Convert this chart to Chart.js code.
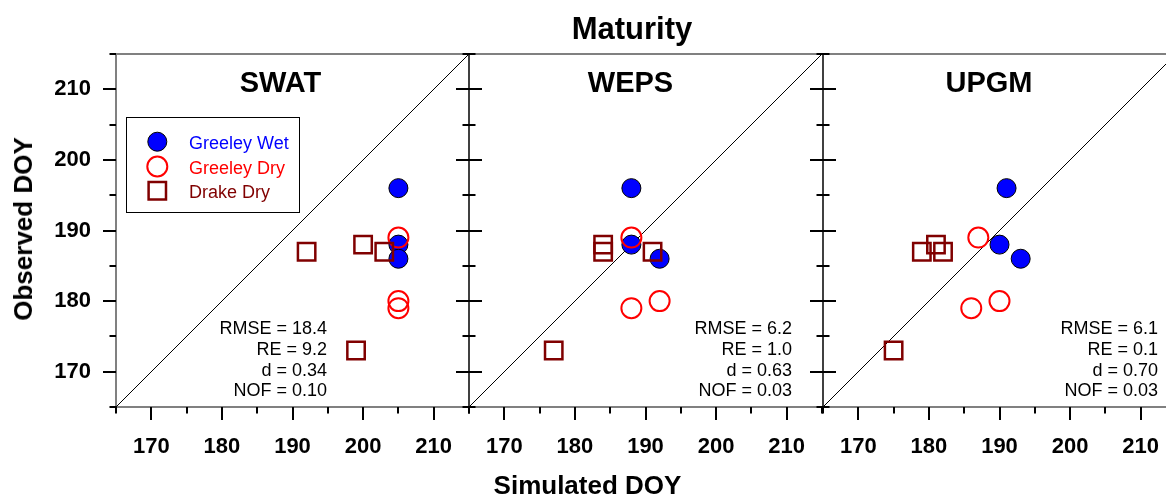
<!DOCTYPE html>
<html>
<head>
<meta charset="utf-8">
<script src="https://cdn.jsdelivr.net/npm/chart.js@4/dist/chart.umd.min.js"></script>
<style>
  html, body { margin: 0; padding: 0; background: #fff; }
  #wrap { position: relative; width: 1166px; height: 495px; overflow: hidden; background: #fff; }
  canvas { position: absolute; top: 0; }
  .t { position: absolute; font-family: 'Liberation Sans', Arial, sans-serif; font-weight: bold; color: #000; line-height: 1; white-space: nowrap; }
</style>
</head>
<body>
<div id="wrap">
  <canvas id="c0" width="484" height="495" style="left:0px"></canvas>
  <canvas id="c1" width="484" height="495" style="left:353px"></canvas>
  <canvas id="c2" width="484" height="495" style="left:707px"></canvas>
  <div class="t" id="mainTitle" style="left:432px; width:400px; text-align:center; top:12.8px; font-size:31px;">Maturity</div>
  <div class="t" id="xTitle" style="left:387.5px; width:400px; text-align:center; top:471.6px; font-size:26px;">Simulated DOY</div>
  <div class="t" id="yTitle" style="left:22.5px; top:229px; font-size:26px; transform: translate(-50%,-50%) rotate(-90deg);">Observed DOY</div>
</div>
<script>
// ---------------- data ----------------
const models = ['SWAT', 'WEPS', 'UPGM'];
const seriesNames = ['Greeley Wet', 'Greeley Dry', 'Drake Dry'];

// observed DOY (same for every model)
const observedGreeleyWet = [196, 188, 186];
const observedGreeleyDry = [189, 180, 179];
const observedDrakeDry   = [188, 187, 187, 173];

// simulated DOY per model
const swatGreeleyWet = [205, 205, 205];
const swatGreeleyDry = [205, 205, 205];
const swatDrakeDry   = [200, 192, 203, 199];

const wepsGreeleyWet = [188, 188, 192];
const wepsGreeleyDry = [188, 192, 188];
const wepsDrakeDry   = [184, 184, 191, 177];

const upgmGreeleyWet = [191, 190, 193];
const upgmGreeleyDry = [187, 190, 186];
const upgmDrakeDry   = [181, 179, 182, 175];

const swatStats = ['RMSE = 18.4', 'RE = 9.2', 'd = 0.34', 'NOF = 0.10'];
const wepsStats = ['RMSE = 6.2', 'RE = 1.0', 'd = 0.63', 'NOF = 0.03'];
const upgmStats = ['RMSE = 6.1', 'RE = 0.1', 'd = 0.70', 'NOF = 0.03'];

const axisMin = 165, axisMax = 215;
const majorTicks = [170, 180, 190, 200, 210];
const minorTicks = [165, 175, 185, 195, 205, 215];
const oneToOne = [165, 215];

// ---------------- build ----------------
const simulated = [
  [swatGreeleyWet, swatGreeleyDry, swatDrakeDry],
  [wepsGreeleyWet, wepsGreeleyDry, wepsDrakeDry],
  [upgmGreeleyWet, upgmGreeleyDry, upgmDrakeDry]
];
const observed = [observedGreeleyWet, observedGreeleyDry, observedDrakeDry];
const stats = [swatStats, wepsStats, upgmStats];

const FONT = "'Liberation Sans', Arial, sans-serif";
const GREY = '#808080';
const titleOffset = [164.5, 161.5, 166];
const statsRight = [211, 323, 335];

const seriesStyle = [
  { pointStyle: 'circle', radius: 9.5, fill: '#0000FF', stroke: '#000000', width: 1, text: '#0000FF' },
  { pointStyle: 'circle', radius: 10, fill: 'rgba(0,0,0,0)', stroke: '#FF0000', width: 2, text: '#FF0000' },
  { pointStyle: 'rect', radius: 12.3, fill: 'rgba(0,0,0,0)', stroke: '#800000', width: 2.5, text: '#800000' }
];

function pairs(xs, ys) { return xs.map((v, k) => ({ x: v, y: ys[k] })); }

function drawMarker(ctx, st, x, y) {
  ctx.save();
  ctx.lineWidth = st.width;
  ctx.strokeStyle = st.stroke;
  ctx.fillStyle = st.fill;
  ctx.beginPath();
  if (st.pointStyle === 'circle') {
    ctx.arc(x, y, st.radius, 0, Math.PI * 2);
  } else {
    const s = st.radius * Math.SQRT1_2;
    ctx.rect(x - s, y - s, 2 * s, 2 * s);
  }
  ctx.fill();
  ctx.stroke();
  ctx.restore();
}

function panelPlugin(i) {
  return {
    id: 'panel' + i,
    beforeDatasetsDraw(chart) {
      const { ctx, chartArea: a, scales } = chart;
      const xs = scales.x, ys = scales.y;
      ctx.save();
      // grey frame lines
      ctx.strokeStyle = GREY;
      ctx.lineWidth = 2;
      ctx.beginPath();
      ctx.moveTo(i === 0 ? a.left - 6 : a.left, a.top);
      ctx.lineTo(chart.width, a.top);
      ctx.moveTo(a.left, a.bottom);
      ctx.lineTo(chart.width, a.bottom);
      ctx.stroke();
      // left axis line
      ctx.beginPath();
      if (i === 0) { ctx.strokeStyle = GREY; ctx.lineWidth = 2; }
      else { ctx.strokeStyle = '#000'; ctx.lineWidth = 1.5; }
      ctx.moveTo(a.left, a.top);
      ctx.lineTo(a.left, a.bottom);
      ctx.stroke();
      // tick marks
      ctx.strokeStyle = '#000';
      ctx.lineWidth = 2;
      ctx.beginPath();
      const yTick = (v, len) => {
        const p = Math.round(ys.getPixelForValue(v));
        ctx.moveTo(a.left - len, p);
        ctx.lineTo(i === 0 ? a.left : a.left + len, p);
      };
      const xTick = (v, len) => {
        const p = Math.round(xs.getPixelForValue(v));
        ctx.moveTo(p, a.bottom);
        ctx.lineTo(p, a.bottom + len);
      };
      majorTicks.forEach(v => { yTick(v, 13); xTick(v, 13); });
      minorTicks.forEach(v => { yTick(v, 6.5); xTick(v, 6.5); });
      ctx.stroke();
      ctx.restore();
    },
    afterDatasetsDraw(chart) {
      const { ctx, chartArea: a } = chart;
      ctx.save();
      // panel title
      ctx.fillStyle = '#000';
      ctx.font = 'bold 29px ' + FONT;
      ctx.textAlign = 'center';
      ctx.textBaseline = 'alphabetic';
      ctx.fillText(models[i], a.left + titleOffset[i], 92);
      // statistics
      ctx.font = '18px ' + FONT;
      ctx.textAlign = 'right';
      const base = [334, 355, 376, 396];
      stats[i].forEach((s, k) => ctx.fillText(s, a.left + statsRight[i], base[k]));
      // legend (first panel only)
      if (i === 0) {
        ctx.fillStyle = '#fff';
        ctx.fillRect(126.5, 117.5, 173, 95);
        ctx.strokeStyle = '#000';
        ctx.lineWidth = 1;
        ctx.strokeRect(126.5, 117.5, 173, 95);
        const ly = [141.7, 166.5, 190.7];
        ctx.font = '18px ' + FONT;
        ctx.textAlign = 'left';
        seriesNames.forEach((n, k) => {
          drawMarker(ctx, seriesStyle[k], 157.3, ly[k]);
          ctx.fillStyle = seriesStyle[k].text;
          ctx.fillText(n, 189, ly[k] + 7.5);
        });
      }
      ctx.restore();
    }
  };
}

function makeChart(i) {
  const sim = simulated[i];
  const datasets = seriesNames.map((name, k) => ({
    type: 'scatter',
    label: name,
    data: pairs(sim[k], observed[k]),
    pointStyle: seriesStyle[k].pointStyle,
    pointRadius: seriesStyle[k].radius,
    pointHoverRadius: seriesStyle[k].radius,
    pointBackgroundColor: seriesStyle[k].fill,
    pointBorderColor: seriesStyle[k].stroke,
    pointBorderWidth: seriesStyle[k].width,
    backgroundColor: seriesStyle[k].fill,
    borderColor: seriesStyle[k].stroke,
    order: 3 - k
  }));
  datasets.push({
    type: 'line',
    label: '1:1',
    data: pairs(oneToOne, oneToOne),
    borderColor: '#000',
    borderWidth: 1,
    pointRadius: 0,
    fill: false,
    order: 10
  });
  const tickFont = { family: FONT, size: 22, weight: 'bold' };
  return new Chart(document.getElementById('c' + i), {
    type: 'scatter',
    data: { datasets },
    options: {
      responsive: false,
      animation: false,
      events: [],
      layout: { padding: { top: 54, right: 15, left: 0, bottom: 0 } },
      plugins: { legend: { display: false }, tooltip: { enabled: false }, title: { display: false } },
      scales: {
        x: {
          type: 'linear', position: 'bottom', min: axisMin, max: axisMax,
          afterBuildTicks: s => { s.ticks = majorTicks.map(v => ({ value: v })); },
          afterFit: s => { s.height = 88; },
          grid: { display: true, drawOnChartArea: false, drawTicks: true, tickLength: 13, tickColor: 'rgba(0,0,0,0)', color: 'rgba(0,0,0,0)' },
          border: { display: false },
          ticks: { font: tickFont, color: '#000', padding: 14, maxRotation: 0, autoSkip: false }
        },
        y: {
          type: 'linear', position: 'left', min: axisMin, max: axisMax,
          afterBuildTicks: s => { s.ticks = majorTicks.map(v => ({ value: v })); },
          afterFit: s => { s.width = 116; },
          grid: { display: true, drawOnChartArea: false, drawTicks: true, tickLength: 13, tickColor: 'rgba(0,0,0,0)', color: 'rgba(0,0,0,0)' },
          border: { display: false },
          ticks: { display: i === 0, font: tickFont, color: '#000', padding: 12, autoSkip: false }
        }
      }
    },
    plugins: [panelPlugin(i)]
  });
}

[0, 1, 2].forEach(makeChart);
</script>
</body>
</html>
